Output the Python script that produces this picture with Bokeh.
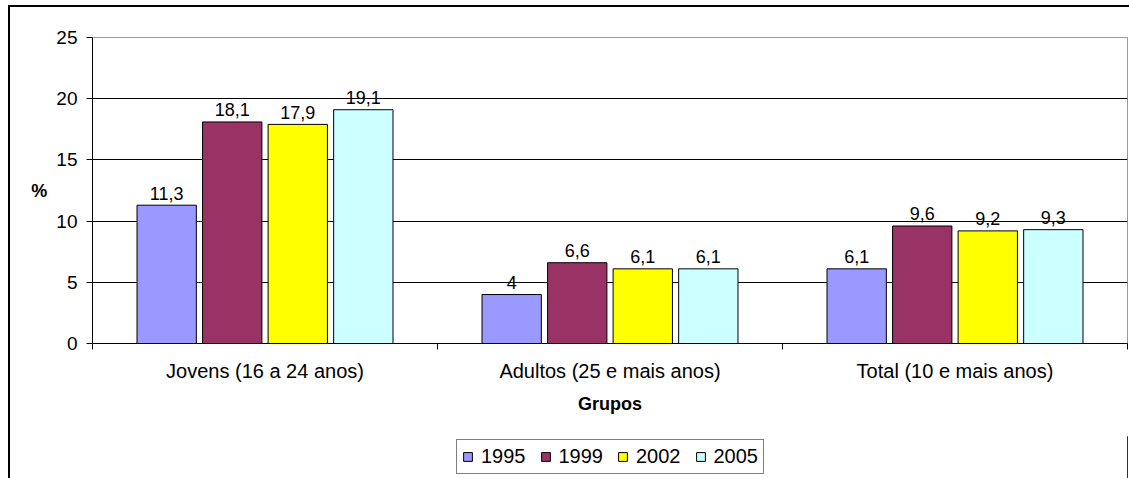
from bokeh.plotting import figure
from bokeh.models import (ColumnDataSource, FixedTicker, Legend, LegendItem, Range1d)
from bokeh.layouts import column
from bokeh.core.properties import value
from bokeh.embed import file_html
from bokeh.resources import INLINE

categories = ["Jovens (16 a 24 anos)", "Adultos (25 e mais anos)", "Total (10 e mais anos)"]
years = ["1995", "1999", "2002", "2005"]
v1995 = [11.3, 4, 6.1]
v1999 = [18.1, 6.6, 9.6]
v2002 = [17.9, 6.1, 9.2]
v2005 = [19.1, 6.1, 9.3]
y_ticks = [0, 5, 10, 15, 20, 25]

series = [v1995, v1999, v2002, v2005]
colors = ["#9999FF", "#993366", "#FFFF00", "#CCFFFF"]
FONT = "Liberation Sans"

W = 1119
H1 = 429
H2 = 42

p = figure(width=W, height=H1, output_backend="svg", toolbar_location=None,
           x_range=Range1d(0, len(categories)), y_range=Range1d(0, 25),
           min_border_left=82, min_border_right=2, min_border_top=30,
           min_border_bottom=H1 - 336)

p.outline_line_color = "#999999"
p.outline_line_width = 1
p.background_fill_color = "white"
p.border_fill_color = "white"

p.xgrid.visible = False
p.ygrid.grid_line_color = "black"
p.ygrid.grid_line_width = 1
p.ygrid.ticker = FixedTicker(ticks=y_ticks[1:-1])

# y axis
p.yaxis.ticker = FixedTicker(ticks=y_ticks)
p.yaxis.major_tick_out = 6
p.yaxis.major_tick_in = 0
p.yaxis.minor_tick_out = 0
p.yaxis.minor_tick_in = 0
p.yaxis.axis_line_color = "black"
p.yaxis.major_label_text_font = FONT
p.yaxis.major_label_text_font_size = "19px"
p.yaxis.major_label_text_color = "black"
p.yaxis.major_label_standoff = 9
p.yaxis.axis_label = "%"
p.yaxis.axis_label_text_font = FONT
p.yaxis.axis_label_text_font_size = "18px"
p.yaxis.axis_label_text_font_style = "bold"
p.yaxis.axis_label_text_color = "black"
p.yaxis.axis_label_standoff = 6
try:
    p.yaxis.axis_label_orientation = "horizontal"
except Exception:
    pass

# x axis: labels at category centers, ticks at boundaries
centers = [i + 0.5 for i in range(len(categories))]
p.xaxis.ticker = FixedTicker(ticks=centers, minor_ticks=list(range(len(categories) + 1)))
p.xaxis.major_label_overrides = {c: lab for c, lab in zip(centers, categories)}
p.xaxis.major_tick_out = 0
p.xaxis.major_tick_in = 0
p.xaxis.minor_tick_out = 6
p.xaxis.minor_tick_in = 0
p.xaxis.minor_tick_line_color = "black"
p.xaxis.axis_line_color = "black"
p.xaxis.major_label_text_font = FONT
p.xaxis.major_label_text_font_size = "20px"
p.xaxis.major_label_text_color = "black"
p.xaxis.major_label_standoff = 10
p.xaxis.axis_label = "Grupos"
p.xaxis.axis_label_text_font = FONT
p.xaxis.axis_label_text_font_size = "18px"
p.xaxis.axis_label_text_font_style = "bold"
p.xaxis.axis_label_text_color = "black"
p.xaxis.axis_label_standoff = 9

step = 0.19
bw = 0.172
for j, (yr, vals, col) in enumerate(zip(years, series, colors)):
    off = (j - 1.5) * step
    xs = [c + off for c in centers]
    labels = [("%g" % v).replace(".", ",") for v in vals]
    src = ColumnDataSource(dict(x=xs, top=vals, lab=labels))
    p.vbar(x="x", top="top", bottom=0, width=bw, source=src,
           fill_color=col, line_color="black", line_width=1)
    p.text(x="x", y="top", text="lab", source=src, text_align="center",
           text_baseline="alphabetic", y_offset=-12, text_font=value(FONT),
           text_font_size="18px", text_color="black")

# legend strip below the chart (swatch renderers sit outside the visible range)
p2 = figure(width=W, height=H2, output_backend="svg", toolbar_location=None,
            x_range=Range1d(0, 1), y_range=Range1d(0, 1),
            min_border_left=0, min_border_right=0, min_border_top=0, min_border_bottom=0)
p2.axis.visible = False
p2.grid.visible = False
p2.outline_line_color = None
p2.background_fill_color = "white"
p2.border_fill_color = "white"
items = []
for yr, col in zip(years, colors):
    r = p2.vbar(x=[10], top=[1], width=0.1, fill_color=col, line_color="black",
                line_width=1)
    items.append(LegendItem(label=yr, renderers=[r]))

legend = Legend(items=items, orientation="horizontal", location=(364, 4),
                glyph_width=11, glyph_height=11, label_standoff=8, spacing=14,
                padding=5, margin=0, border_line_color="black", border_line_width=1,
                background_fill_color="white", background_fill_alpha=1,
                label_text_font=FONT, label_text_font_size="20px",
                label_text_color="black", label_height=20)
p2.add_layout(legend, "center")

layout = column(p, p2, spacing=0)
layout.styles = {"margin-left": "8px", "margin-top": "5px",
                 "border-left": "2px solid black", "border-top": "2px solid black"}

open("out.html", "w").write(file_html(layout, INLINE))
